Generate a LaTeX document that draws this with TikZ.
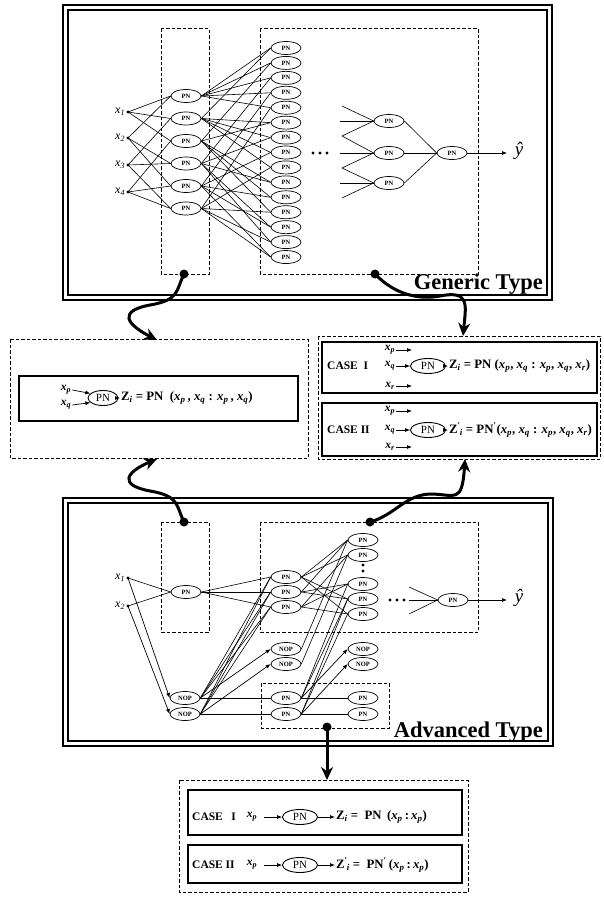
\documentclass[tikz,border=0pt]{standalone}
\usepackage{fontspec}
\setmainfont{Liberation Serif}
\usetikzlibrary{shapes.geometric,arrows.meta}
\newcommand{\xs}[1]{\textit{x}\textsubscript{\textit{#1}}}
\newcommand{\zp}{Z\textsuperscript{′}\hspace{-1pt}\textsubscript{\textit{i}}}
\begin{document}
\begin{tikzpicture}[x=1pt,y=-1pt,
  pnn/.style={ellipse,draw,line width=0.7pt,minimum width=30pt,minimum height=13pt,inner sep=0pt,font=\fontsize{6.5}{6.5}\selectfont\bfseries},
  pnc/.style={ellipse,draw,line width=0.9pt,minimum width=35pt,minimum height=15pt,inner sep=0pt,font=\fontsize{11}{11}\selectfont},
  wr/.style={line width=0.6pt},
  dbx/.style={draw,line width=1pt,dash pattern=on 3.5pt off 2pt},
  fro/.style={draw,line width=1.5pt},
  fri/.style={draw,line width=1.1pt},
  sbx/.style={draw,line width=1.3pt},
  indot/.style={circle,fill,inner sep=0pt,minimum size=3.2pt},
  xlab/.style={font=\fontsize{12}{12}\selectfont\itshape,anchor=east,inner sep=1pt},
  xc/.style={font=\fontsize{11.5}{11.5}\selectfont\bfseries,inner sep=1pt},
  bigarr/.style={line width=3pt,-{Stealth[length=13pt,width=12pt]}},
  bigdot/.style={circle,fill,inner sep=0pt,minimum size=9pt},
  tarr/.style={line width=0.7pt,-{Latex[length=5pt,width=4pt]}},
  ttl/.style={font=\fontsize{22.5}{22.5}\selectfont\bfseries,anchor=base east,inner sep=0pt},
  fml/.style={font=\fontsize{12.8}{13}\selectfont\bfseries,anchor=west,inner sep=1pt},
  csl/.style={font=\fontsize{11.5}{11.5}\selectfont\bfseries,anchor=west,inner sep=0pt},
  dotsm/.style={circle,fill,inner sep=0pt,minimum size=3.2pt},
  yhat/.style={font=\fontsize{19}{19}\selectfont\itshape},
]
\useasboundingbox (0,0) rectangle (604,901);

%================ TOP PANEL (Generic Type) =================
\draw[fro] (63,5) rectangle (552,300);
\draw[fri] (68,10) rectangle (547,295);
\draw[dbx] (161,29) rectangle (209,274);
\draw[dbx] (260,29) rectangle (478,274);

\foreach \i/\y in {1/112,2/138,3/165,4/192}{
  \node[indot] (x\i) at (128,\y) {};
  \node[xlab] (xl\i) at (x\i.west) {x\textsubscript{\i}};
}
\foreach \k/\y in {1/96,2/118.5,3/141,4/163.5,5/186,6/208.5}
  \node[pnn] (a\k) at (186,\y) {PN};
\foreach \k in {1,...,15}
  \node[pnn] (b\k) at (286,{48+14.93*(\k-1)}) {PN};

\foreach \p/\q/\k in {1/2/1,1/3/2,1/4/3,2/3/4,2/4/5,3/4/6}{
  \draw[wr] (x\p.center) -- (a\k.west);
  \draw[wr] (x\q.center) -- (a\k.west);
}
\foreach \p/\q/\k in {1/2/1,1/3/2,1/4/3,1/5/4,1/6/5,2/3/6,2/4/7,2/5/8,2/6/9,3/4/10,3/5/11,3/6/12,4/5/13,4/6/14,5/6/15}{
  \draw[wr] (a\p.east) -- (b\k.west);
  \draw[wr] (a\q.east) -- (b\k.west);
}

\node[dotsm] (td1) at (313,153) {};
\node[dotsm] (td2) at (320,153) {};
\node[dotsm] (td3) at (327,153) {};

\node[pnn] (c1) at (389,121) {PN};
\node[pnn] (c2) at (389,153) {PN};
\node[pnn] (c3) at (389,183) {PN};
\node[pnn] (d) at (452,153) {PN};
\coordinate (e1) at (342,106);
\coordinate (e2) at (340,121);
\coordinate (e3) at (342,136);
\coordinate (e4) at (340,153);
\coordinate (e5) at (342,168);
\coordinate (e6) at (340,183);
\coordinate (e7) at (342,198);
\foreach \s in {e1,e2,e3} \draw[wr] (\s) -- (c1.west);
\foreach \s in {e3,e4,e5} \draw[wr] (\s) -- (c2.west);
\foreach \s in {e5,e6,e7} \draw[wr] (\s) -- (c3.west);
\foreach \s in {c1,c2,c3} \draw[wr] (\s.east) -- (d.west);
\coordinate (yo1) at (507,153);
\draw[tarr] (d.east) -- (yo1);
\node[yhat] (yh1) at (519,151) {\^{y}};

\node[ttl] (gt) at (543,289) {Generic Type};

%================ MIDDLE LEFT BOX =================
\draw[dbx] (10,339) rectangle (308,458);
\draw[sbx] (19,376) rectangle (298,421);
\node[pnc, minimum width=30pt, minimum height=15pt] (pm) at (103,398) {PN};
\node[xc] (mxp) at (66,390) {\xs{p}};
\node[xc] (mxq) at (66,405) {\xs{q}};
\draw[tarr] (mxp.east) -- (pm.160);
\draw[tarr] (mxq.east) -- (pm.200);
\node[fml] (mf) at (120,398) {Z\textsubscript{\textit{i}} = PN \ (\xs{p}\,, \xs{q} : \xs{p}\,, \xs{q})};
\draw[tarr] (pm.east) -- (mf.west);

%================ MIDDLE RIGHT BOX =================
\draw[dbx] (318,336) rectangle (600,459);
\draw[sbx] (322,342) rectangle (597,393);
\draw[sbx] (322,403) rectangle (597,456);

\node[csl] (cl1) at (327,366) {CASE\ \ I};
\node[xc] (c1p) at (390,350) {\xs{p}};
\node[xc] (c1q) at (390,366) {\xs{q}};
\node[xc] (c1r) at (390,386) {\xs{r}};
\coordinate (c1pe) at (412,350);
\coordinate (c1re) at (412,386);
\node[pnc] (cp1) at (428,366) {PN};
\draw[tarr] (c1p.east) -- (c1pe);
\draw[tarr] (c1r.east) -- (c1re);
\draw[tarr] (c1q.east) -- (cp1.west);
\node[fml] (cf1) at (448,366) {Z\textsubscript{\textit{i}} = PN (\xs{p}, \xs{q} : \xs{p}, \xs{q}, \xs{r})};
\draw[tarr] (cp1.east) -- (cf1.west);

\node[csl] (cl2) at (327,430) {CASE\ II};
\node[xc] (c2p) at (390,411) {\xs{p}};
\node[xc] (c2q) at (390,430) {\xs{q}};
\node[xc] (c2r) at (390,447) {\xs{r}};
\coordinate (c2pe) at (412,411);
\coordinate (c2re) at (412,447);
\node[pnc] (cp2) at (428,430) {PN};
\draw[tarr] (c2p.east) -- (c2pe);
\draw[tarr] (c2r.east) -- (c2re);
\draw[tarr] (c2q.east) -- (cp2.west);
\node[fml] (cf2) at (448,430) {\zp{} = PN\textsuperscript{′}(\xs{p}, \xs{q} : \xs{p}, \xs{q}, \xs{r})};
\draw[tarr] (cp2.east) -- (cf2.west);

%================ BOTTOM PANEL (Advanced Type) =================
\draw[fro] (63,498) rectangle (553,746);
\draw[fri] (68,503) rectangle (548,741);
\draw[dbx] (161,522) rectangle (209,632);
\draw[dbx] (260,522) rectangle (478,632);
\draw[dbx] (261,683) rectangle (389,728);

\node[indot] (y1) at (128,578) {};
\node[xlab] (yl1) at (y1.west) {x\textsubscript{1}};
\node[indot] (y2) at (128,606) {};
\node[xlab] (yl2) at (y2.west) {x\textsubscript{2}};

\node[pnn] (g) at (186,592) {PN};
\node[pnn] (o1) at (185,698) {NOP};
\node[pnn] (o2) at (185,714) {NOP};
\node[pnn] (m1) at (286,577) {PN};
\node[pnn] (m2) at (286,592) {PN};
\node[pnn] (m3) at (286,607) {PN};
\node[pnn] (n1) at (286,649) {NOP};
\node[pnn] (n2) at (286,664) {NOP};
\node[pnn] (p1) at (286,698) {PN};
\node[pnn] (p2) at (286,714) {PN};
\node[pnn] (r1) at (363,540) {PN};
\node[pnn] (r2) at (363,555) {PN};
\node[pnn] (r3) at (363,584) {PN};
\node[pnn] (r4) at (363,599) {PN};
\node[pnn] (r5) at (363,614) {PN};
\node[pnn] (s1) at (363,649) {NOP};
\node[pnn] (s2) at (363,664) {NOP};
\node[pnn] (q1) at (363,698) {PN};
\node[pnn] (q2) at (363,714) {PN};
\node[pnn] (f) at (453,600) {PN};
\node[dotsm] (vd1) at (363,565) {};
\node[dotsm] (vd2) at (363,571) {};
\node[dotsm] (bd1) at (390,600) {};
\node[dotsm] (bd2) at (397,600) {};
\node[dotsm] (bd3) at (404,600) {};

\draw[wr] (y1.center) -- (g.west);
\draw[wr] (y2.center) -- (g.west);
\draw[tarr] (y1.center) -- (o1.west);
\draw[tarr] (y2.center) -- (o2.west);
\foreach \t in {m1,m2,m3} \draw[wr] (g.east) -- (\t.west);
\foreach \t in {m1,m2,m3} {\draw[wr] (o1.east) -- (\t.west); \draw[wr] (o2.east) -- (\t.west);}
\draw[tarr] (o1.east) -- (n1.west);
\draw[tarr] (o2.east) -- (n2.west);
\draw[wr] (o1.east) -- (p1.west);
\draw[wr] (o2.east) -- (p2.west);
\foreach \t in {r1,r2,r4,r5} \draw[wr] (m1.east) -- (\t.west);
\foreach \t in {r1,r3,r4} \draw[wr] (m2.east) -- (\t.west);
\foreach \t in {r2,r3,r5} \draw[wr] (m3.east) -- (\t.west);
\draw[wr] (n1.east) -- (r1.west);
\draw[wr] (n2.east) -- (r2.west);
\foreach \t in {r3,r4} \draw[wr] (p1.east) -- (\t.west);
\foreach \t in {r4,r5} \draw[wr] (p2.east) -- (\t.west);
\draw[tarr] (p1.east) -- (s1.west);
\draw[tarr] (p2.east) -- (s2.west);
\draw[wr] (p1.east) -- (q1.west);
\draw[wr] (p2.east) -- (q2.west);

\coordinate (h1) at (409,587);
\coordinate (h2) at (409,600);
\coordinate (h3) at (409,614);
\foreach \s in {h1,h2,h3} \draw[wr] (\s) -- (f.west);
\coordinate (yo2) at (507,600);
\draw[tarr] (f.east) -- (yo2);
\node[yhat] (yh2) at (519,598) {\^{y}};

\node[ttl] (at) at (543,737) {Advanced Type};

%================ BOTTOM BOX =================
\draw[dbx] (179,780) rectangle (468,892);
\draw[sbx] (188,790) rectangle (462,835);
\draw[sbx] (188,845) rectangle (462,883);

\node[csl] (bl1) at (192,817) {CASE\ \ \ I};
\node[xc] (b1p) at (252,817) {\xs{p}};
\node[pnc] (bp1) at (300,817) {PN};
\draw[tarr] (b1p.east) ++(6,0) coordinate (b1ps) -- (bp1.west);
\node[fml] (bf1) at (335,817) {Z\textsubscript{\textit{i}} = \ PN \,(\xs{p}\,:\,\xs{p})};
\draw[tarr] (bp1.east) -- (bf1.west);

\node[csl] (bl2) at (192,865) {CASE\ II};
\node[xc] (b2p) at (252,865) {\xs{p}};
\node[pnc] (bp2) at (300,865) {PN};
\draw[tarr] (b2p.east) ++(6,0) coordinate (b2ps) -- (bp2.west);
\node[fml] (bf2) at (335,865) {\zp{} = \ PN\textsuperscript{′}\,(\xs{p}\,:\,\xs{p})};
\draw[tarr] (bp2.east) -- (bf2.west);

%================ THICK CONNECTORS =================
\node[bigdot] (k1) at (184,274) {};
\coordinate (t1) at (157,340);
\draw[bigarr] (k1.center) .. controls (176,290) and (180,300) .. (150,305) .. controls (118,311) and (126,324) .. (t1);

\node[bigdot] (k2) at (375,274) {};
\coordinate (t2) at (463,336);
\draw[bigarr] (k2.center) .. controls (395,295) and (420,300) .. (440,296) .. controls (470,290) and (466,305) .. (t2);

\node[bigdot] (k3) at (184,522) {};
\coordinate (t3) at (157,459);
\draw[bigarr] (k3.center) .. controls (176,506) and (180,496) .. (150,491) .. controls (118,485) and (126,472) .. (t3);

\node[bigdot] (k4) at (370,522) {};
\coordinate (t4) at (465,459);
\draw[bigarr] (k4.center) .. controls (395,515) and (405,495) .. (430,494) .. controls (455,494) and (462,505) .. (t4);

\node[bigdot] (k5) at (327,727) {};
\coordinate (t5) at (327,780);
\draw[bigarr] (k5.center) -- (t5);
\end{tikzpicture}
\end{document}
